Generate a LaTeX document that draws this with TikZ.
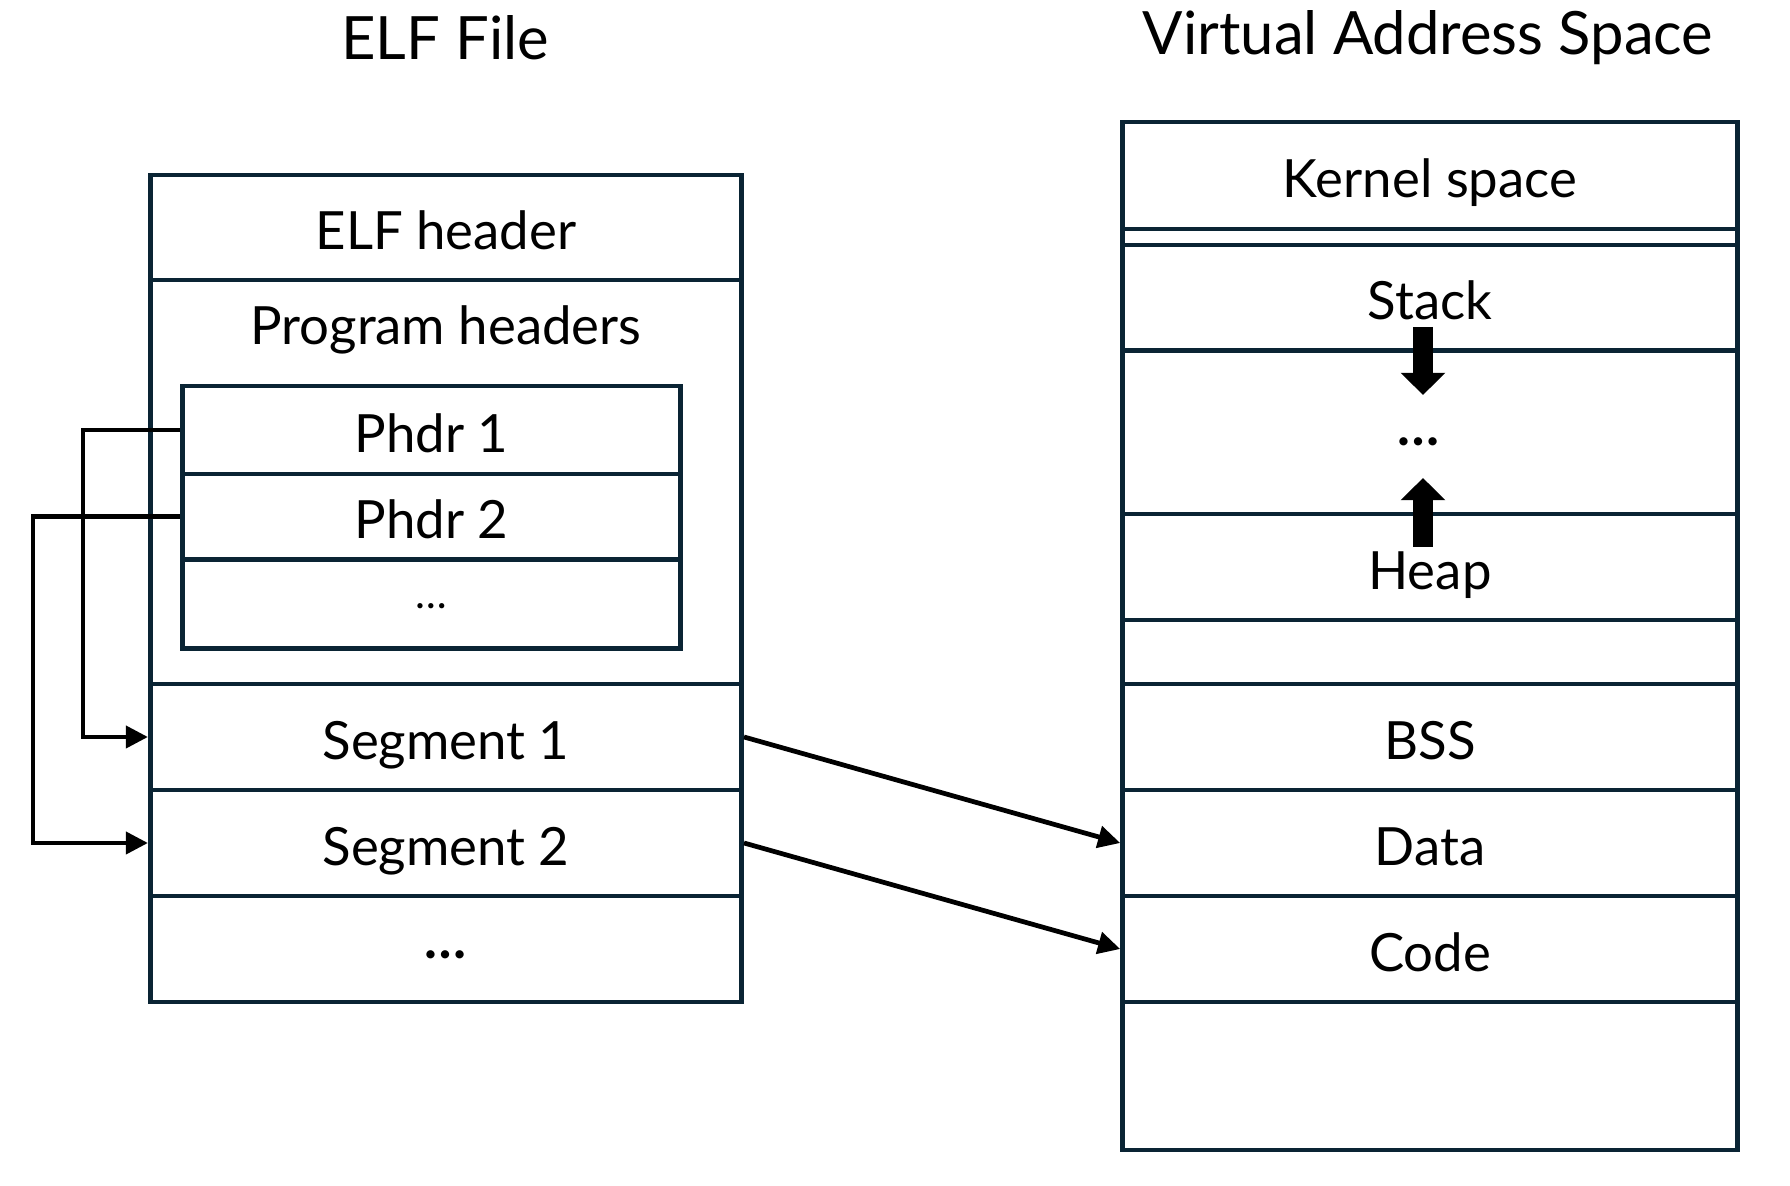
\documentclass[tikz,border=0pt]{standalone}
\usepackage{fontspec}
\setmainfont{Lato}
\usetikzlibrary{arrows.meta}
\definecolor{box line}{RGB}{10,36,52}

\begin{document}
\begin{tikzpicture}[x=0.1mm, y=-0.1mm, font=\fontsize{15}{18}\selectfont,
    cell/.style={draw=box line, line width=1.3pt, inner sep=0pt, text height=12.6pt, text depth=0pt},
    plain cell/.style={draw=box line, line width=1.3pt, inner sep=0pt},
    left col/.style={minimum width=59.15mm},
    right col/.style={minimum width=61.5mm},
    title/.style={font=\fontsize{17}{20}\selectfont},
    link/.style={line width=1.35pt, -{Triangle[length=6.3pt, width=6.2pt]}},
    growth arrow/.style={line width=5.7pt, -{Triangle[length=6.3pt, width=12.3pt]}}]
  \useasboundingbox (0,0) rectangle (1790,1186);
  \node[title] (elftitle) at (445,38) {ELF File};
  \node[title] (vastitle) at (1428,38) {Virtual Address Space};

  \node[cell, left col, minimum height=10.5mm] (elfhdr) at (446,227.5) {ELF header};
  \node[plain cell, left col, minimum height=40.4mm] (proghdrs) at (446,482) {};
  \node[text height=12.6pt, inner sep=0pt] (phtitle) at (446,327) {Program headers};
  \node[cell, minimum width=49.8mm, minimum height=8.8mm] (phdr1) at (431.5,430) {Phdr 1};
  \node[cell, minimum width=49.8mm, minimum height=8.55mm] (phdr2) at (431.5,516.7) {Phdr 2};
  \node[plain cell, minimum width=49.8mm, minimum height=8.9mm] (phdrrest) at (431.5,604) {};
  \node[inner sep=0pt, font=\fontsize{12}{14}\selectfont] (phdrdots) at (431,606) {…};
  \node[cell, left col, minimum height=10.6mm] (seg1) at (446,737) {Segment 1};
  \node[cell, left col, minimum height=10.6mm] (seg2) at (446,843) {Segment 2};
  \node[plain cell, left col, minimum height=10.6mm] (segrest) at (446,949) {};
  \node[inner sep=0pt, font=\fontsize{15.5}{18}\bfseries] (segdots) at (446,955) {…};

  \node[cell, right col, minimum height=10.7mm] (kernel) at (1430,175.5) {Kernel space};
  \node[plain cell, right col, minimum height=1.6mm] (guard) at (1430,237) {};
  \node[cell, right col, minimum height=10.55mm] (stack) at (1430,297.75) {Stack};
  \node[plain cell, right col, minimum height=16.35mm] (free) at (1430,432.25) {};
  \node[inner sep=0pt, font=\fontsize{15.5}{18}\bfseries] (freedots) at (1419,442) {…};
  \node[cell, right col, minimum height=10.6mm] (heap) at (1430,567) {Heap};
  \node[plain cell, right col, minimum height=6.4mm] (unused) at (1430,652) {};
  \node[cell, right col, minimum height=10.6mm] (bss) at (1430,737) {BSS};
  \node[cell, right col, minimum height=10.6mm] (data) at (1430,843) {Data};
  \node[cell, right col, minimum height=10.6mm] (code) at (1430,949) {Code};
  \node[plain cell, right col, minimum height=14.8mm] (low) at (1430,1076) {};

  \draw[growth arrow] (1423,327) -- (1423,395);
  \draw[growth arrow] (1423,547) -- (1423,478);

  \coordinate (bend1) at (83,0);
  \coordinate (bend2) at (33,0);
  \draw[link] (phdr1.west) -| (bend1 |- seg1.west) -- (seg1.west);
  \draw[link] (phdr2.west) -| (bend2 |- seg2.west) -- (seg2.west);
  \draw[link] (seg1.east) -- (data.west);
  \draw[link] (seg2.east) -- (code.west);
\end{tikzpicture}
\end{document}
